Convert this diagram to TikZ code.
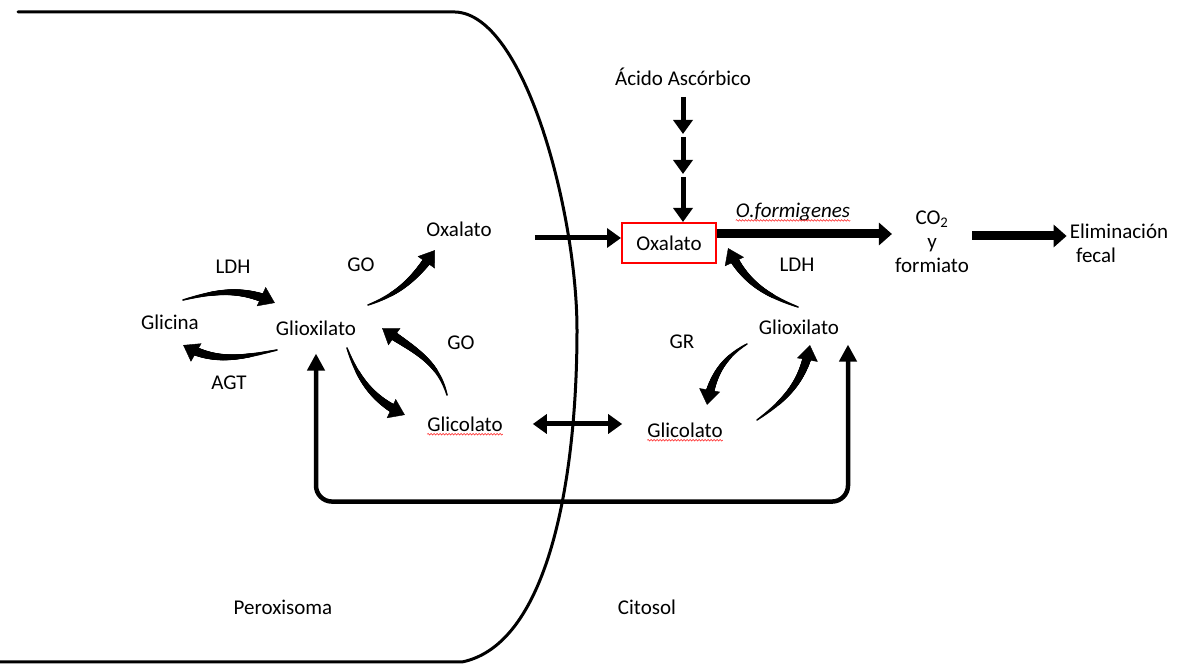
\documentclass[tikz,border=0pt]{standalone}
\usepackage{fontspec}
\setmainfont{Carlito}
\usetikzlibrary{arrows.meta,calc,decorations.markings,decorations.pathmorphing}
\tikzset{every picture/.style={
  >={Triangle[width=19pt,length=14pt]}  % Solid triangular tips.
  }
}

\begin{document}
\begin{tikzpicture}[x=1pt,y=1pt,
    every node/.style={         % Text labels of the figure.
      font=\fontsize{21}{24}\selectfont,
      inner sep=3pt
    },
    memb/.style={               % Peroxisome membrane.
      line width=3pt,
      line cap=round
    },
    dart/.style={               % Plain straight arrows.
      line width=5pt
    },
    fat/.style={                % Heavy arrows of the exit route.
      line width=9pt,
      -{Triangle[width=22pt,length=13pt]}
    },
    loopline/.style={           % Return loop under the membrane.
      line width=4.5pt,
      rounded corners=16pt,
      {Triangle[width=17pt,length=17pt]}-{Triangle[width=17pt,length=17pt]}
    },
    curv/.style={               % Tapered curved arrows.
      decoration={markings,
        mark=between positions 0 and 1 step 0.5pt with {
          \pgfmathsetmacro{\pdist}{\pgfkeysvalueof{/pgf/decoration/mark info/distance from start}}
          \pgfmathsetmacro{\plen}{\pgfdecoratedpathlength}
          \pgfmathsetmacro{\prad}{0.8+4.2*\pdist/\plen}
          \ifdim\pdist pt<\dimexpr\plen pt-12pt\relax
            \fill (0,0) circle[radius=\prad pt];
          \fi},
        mark=at position 1 with {\arrow{Triangle[width=21pt,length=15pt]}}
      },
      postaction={decorate}
    },
    redbox/.style={             % Highlighted oxalate.
      draw=red,
      line width=2pt,
      minimum width=94pt,
      minimum height=40pt
    },
    spell/.style={              % Wavy underline of the source.
      draw=red!80,
      line width=0.6pt,
      decorate,
      decoration={snake,amplitude=0.8pt,segment length=3pt}
    }]

    \useasboundingbox (0,0) rectangle (1179,664);

    % Membrane of the peroxisome.
    \draw[memb] (18,652) -- (455,652)
      .. controls (525,650) and (577,450) .. (577,334)
      .. controls (577,190) and (550,20) .. (462,2) -- (0,2);

    % Metabolites and enzymes.
    \node (acido)   at (683,587) {Ácido Ascórbico};
    \node[redbox] (oxbox) at (669,421) {Oxalato};
    \node (oxper)   at (459,435) {Oxalato};
    \node (ofor)    at (793,452) {\textit{O.formigenes}};
    \node[align=center] (co2) at (932,422)
      {CO\textsubscript{2}\\y\\formiato};
    \node[align=left] (elim) at (1119,421)
      {Eliminación\\\hspace*{0.3em}fecal};
    \node (ldhL)    at (233,397) {LDH};
    \node (goU)     at (361,399) {GO};
    \node (glicina) at (170,342) {Glicina};
    \node (glxL)    at (316,336) {Glioxilato};
    \node (goL)     at (461,321) {GO};
    \node (agt)     at (229,281) {AGT};
    \node (glicL)   at (465,240) {Glicolato};
    \node (glicR)   at (685,234) {Glicolato};
    \node (gr)      at (682,322) {GR};
    \node (glxR)    at (799,337) {Glioxilato};
    \node (ldhR)    at (797,399) {LDH};
    \node (perox)   at (283,57)  {Peroxisoma};
    \node (cito)    at (647,57)  {Citosol};

    % Wavy underlines.
    \draw[spell] ([xshift=3pt,yshift=-3pt]glicL.base west)
      -- ([xshift=-3pt,yshift=-3pt]glicL.base east);
    \draw[spell] ([xshift=3pt,yshift=-3pt]glicR.base west)
      -- ([xshift=-3pt,yshift=-3pt]glicR.base east);
    \draw[spell] ([xshift=3pt,yshift=-3pt]ofor.base west)
      -- ([xshift=-3pt,yshift=-3pt]ofor.base east);

    % Ascorbic acid feeding oxalate.
    \coordinate (ain) at (oxbox.north -| acido.south);
    \draw[dart,->] ([yshift=8pt]ain) ++(0,117) -- ++(0,-37);
    \draw[dart,->] ([yshift=8pt]ain) ++(0,77) -- ++(0,-37);
    \draw[dart,->] ([yshift=8pt]ain) ++(0,37) -- (ain);

    % Straight arrows across the membrane.
    \coordinate (oxin) at ([yshift=5pt]oxbox.west);
    \draw[dart,->] ([xshift=40pt]oxper.east |- oxin) -- (oxin);
    \coordinate (gl0) at ([xshift=-22pt]glicR.west);
    \draw[dart,<->] ([xshift=27pt]glicL.east) -- (gl0 |- glicL.east);

    % Exit route.
    \coordinate (fa) at ([yshift=9pt]oxbox.east);
    \draw[fat] (fa) -- (fa -| co2.west);
    \coordinate (fb) at ([yshift=6pt]co2.east);
    \draw[fat] (fb) -- (fb -| elim.west);

    % Return loop.
    \draw[loopline] ([yshift=-15pt]glxL.south) -- ++(0,-148)
      -| ([xshift=49pt,yshift=-7pt]glxR.south);

    % Curved arrows in the peroxisome.
    \path[curv] ([shift={(13,22)}]glicina.center)
      to[out=15,in=155] ([shift={(-41,25)}]glxL.center);
    \path[curv] ([shift={(-39,-22)}]glxL.center)
      to[out=192,in=-30] ([shift={(13,-23)}]glicina.center);
    \path[curv] ([shift={(52,23)}]glxL.center)
      to[out=20,in=235] ([shift={(-24,-21)}]oxper.center);
    \path[curv] ([shift={(-18,29)}]glicL.center)
      to[out=105,in=-35] ([shift={(66,0)}]glxL.center);
    \path[curv] ([shift={(31,-20)}]glxL.center)
      to[out=-70,in=155] ([shift={(-60,9)}]glicL.center);

    % Curved arrows in the cytosol.
    \path[curv] ([shift={(-1,20)}]glxR.center)
      to[out=160,in=-65] ([shift={(59,-5)}]oxbox.center);
    \path[curv] ([shift={(-52,-17)}]glxR.center)
      to[out=210,in=80] ([shift={(22,25)}]glicR.center);
    \path[curv] ([shift={(72,10)}]glicR.center)
      to[out=35,in=-100] ([shift={(11,-18)}]glxR.center);
  \end{tikzpicture}
\end{document}
